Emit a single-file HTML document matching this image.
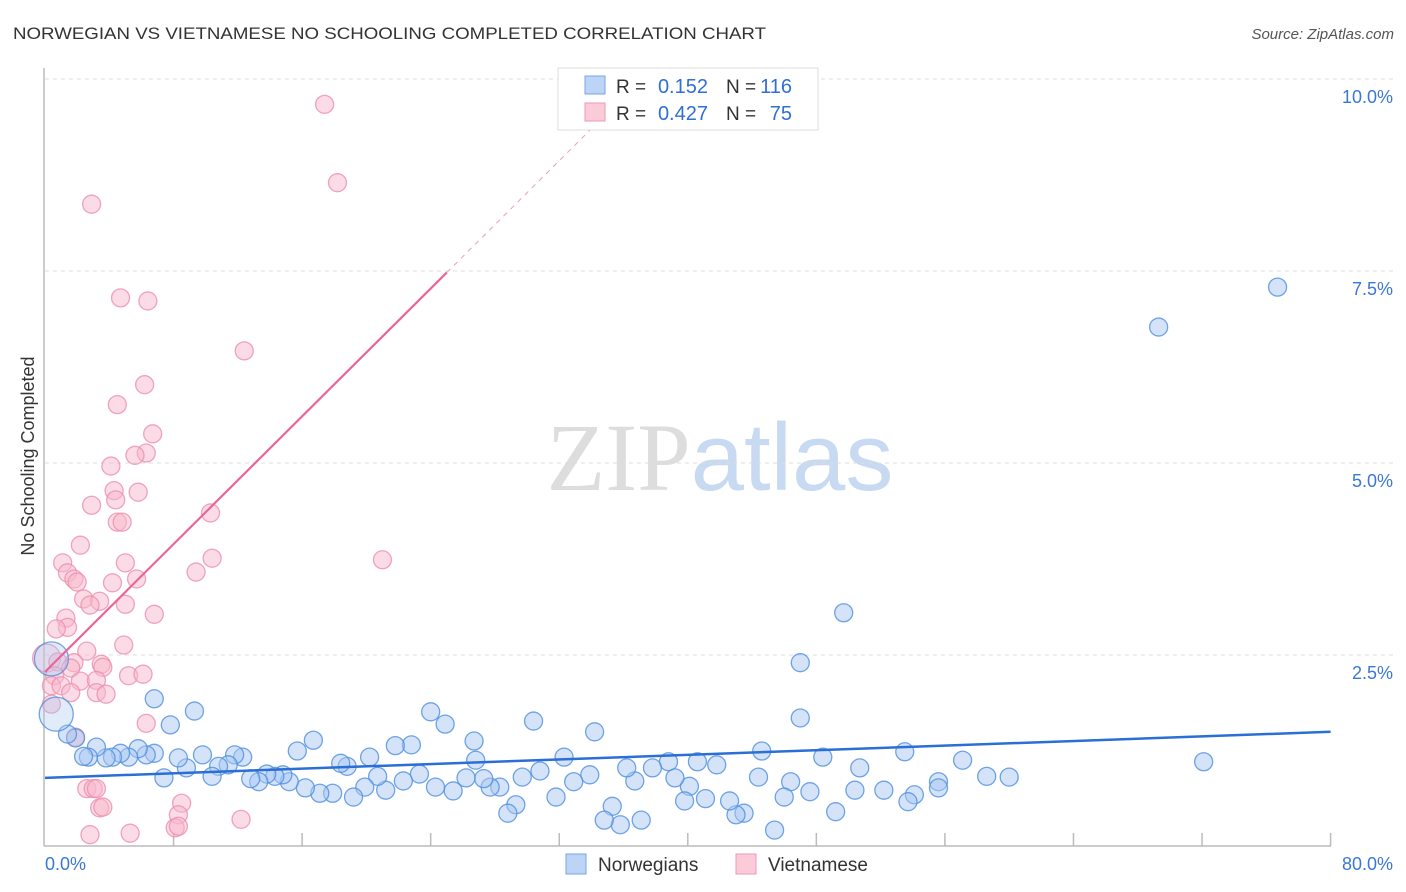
<!DOCTYPE html>
<html><head><meta charset="utf-8"><style>
body{margin:0;background:#fff;font-family:"Liberation Sans",sans-serif}
</style></head><body>
<svg id="c" width="1406" height="892" xmlns="http://www.w3.org/2000/svg" style="display:block">
<text x="13" y="39" font-size="17" fill="#333" textLength="753" lengthAdjust="spacingAndGlyphs">NORWEGIAN VS VIETNAMESE NO SCHOOLING COMPLETED CORRELATION CHART</text>
<text x="1394" y="39" font-size="15" fill="#555" text-anchor="end" font-style="italic">Source: ZipAtlas.com</text>
<text transform="translate(34,456) rotate(-90)" font-size="18" fill="#333" text-anchor="middle">No Schooling Completed</text>
<text x="720" y="490" font-size="96" text-anchor="middle"><tspan fill="#ddd" font-family="Liberation Serif">ZIP</tspan><tspan fill="#c8d9f2">atlas</tspan></text>
<g id="grid"></g><g id="pts"></g><g id="trend"></g>
<g>
<rect x="558" y="68" width="260" height="62" fill="#fff" stroke="#ddd"/>
<rect x="585" y="76" width="20" height="18" fill="#bcd4f5" stroke="#7aa6e6"/>
<rect x="585" y="103" width="20" height="18" fill="#fccbd9" stroke="#ee9ab5"/>
<text x="616" y="93" font-size="19" fill="#333">R =</text>
<text x="708" y="93" font-size="20" fill="#2f6fd6" text-anchor="end">0.152</text>
<text x="726" y="93" font-size="19" fill="#333">N =</text>
<text x="792" y="93" font-size="20" fill="#2f6fd6" text-anchor="end">116</text>
<text x="616" y="120" font-size="19" fill="#333">R =</text>
<text x="708" y="120" font-size="20" fill="#2f6fd6" text-anchor="end">0.427</text>
<text x="726" y="120" font-size="19" fill="#333">N =</text>
<text x="792" y="120" font-size="20" fill="#2f6fd6" text-anchor="end">75</text>
</g>
<g>
<rect x="566" y="854" width="20" height="20" fill="#bcd4f5" stroke="#7aa6e6"/>
<text x="598" y="871" font-size="19" fill="#333">Norwegians</text>
<rect x="736" y="854" width="20" height="20" fill="#fccbd9" stroke="#ee9ab5"/>
<text x="768" y="871" font-size="19" fill="#333">Vietnamese</text>
</g>
</svg>
<script>
const xTicks=[0,8,16,24,32,40,48,56,64,72,80];
const yTicks=[2.5,5.0,7.5,10.0];
const blueX=[76.7,69.3,49.7,47.0,47.0,72.1,60.0,58.6,57.1,55.6,55.6,54.1,53.7,53.5,52.2,50.7,50.4,49.2,48.4,47.6,46.4,46.0,45.4,44.6,44.4,43.5,43.0,42.6,41.8,41.1,40.6,40.1,39.8,38.8,39.2,37.8,36.7,36.2,37.1,35.8,35.3,34.8,34.2,33.9,32.9,31.8,32.3,30.8,30.4,29.7,29.3,28.8,28.3,27.7,27.3,26.8,26.7,26.2,25.4,24.9,24.3,24.0,23.3,22.8,22.3,21.8,21.2,20.7,20.2,19.9,19.2,18.8,18.4,17.9,17.1,16.7,15.7,16.2,15.2,14.8,14.3,13.8,13.3,12.8,12.3,11.8,11.4,10.8,10.4,9.8,9.3,8.8,8.3,7.8,7.4,6.8,6.3,5.8,5.2,4.7,4.2,3.8,3.2,2.7,2.4,1.9,1.4,6.8];
const blueY=[7.29,6.77,3.05,2.40,1.68,1.11,0.91,0.92,1.13,0.85,0.77,0.68,0.59,1.24,0.74,1.03,0.74,0.46,1.17,0.72,0.85,0.65,0.22,1.25,0.91,0.44,0.42,0.60,1.07,0.63,1.11,0.79,0.60,1.11,0.90,1.03,0.86,1.03,0.35,0.29,0.53,0.35,1.50,0.94,0.85,0.65,1.17,0.99,1.64,0.91,0.55,0.44,0.78,0.78,0.89,1.13,1.38,0.90,0.73,1.60,0.78,1.76,0.95,1.33,0.86,1.32,0.74,0.92,1.17,0.78,0.65,1.05,1.09,0.70,0.70,1.39,1.25,0.77,0.85,0.94,0.92,0.95,0.85,0.89,1.17,1.20,1.07,1.05,0.92,1.20,1.77,1.03,1.16,1.59,0.90,1.22,1.20,1.28,1.17,1.22,1.17,1.16,1.30,1.17,1.18,1.42,1.47,1.93];
const blueBigX=[0.7,0.4];
const blueBigY=[1.73,2.45];
const pinkX=[17.4,18.2,2.9,4.7,6.4,12.4,4.5,6.2,6.7,6.3,5.6,4.1,5.8,4.3,4.4,2.9,10.3,4.5,4.8,2.2,1.1,10.4,21.0,9.4,1.4,1.8,2.0,5.0,5.7,4.2,2.4,3.4,2.8,5.0,6.8,1.3,1.4,0.7,4.9,2.6,0.8,1.8,3.5,1.6,3.6,0.6,5.2,6.1,2.2,3.2,0.4,1.0,1.6,3.2,3.8,6.3,0.4,1.9,2.6,3.0,3.2,3.4,3.6,8.5,8.3,8.1,2.8,5.3,12.2,8.3];
const pinkY=[9.67,8.65,8.37,7.15,7.11,6.46,5.76,6.02,5.38,5.13,5.10,4.96,4.62,4.64,4.52,4.45,4.35,4.23,4.23,3.93,3.70,3.76,3.74,3.58,3.57,3.49,3.45,3.70,3.49,3.44,3.23,3.20,3.15,3.16,3.03,2.98,2.86,2.84,2.63,2.55,2.41,2.40,2.38,2.33,2.34,2.23,2.23,2.25,2.16,2.17,2.10,2.10,2.01,2.01,1.99,1.61,1.86,1.43,0.76,0.76,0.76,0.51,0.52,0.57,0.42,0.25,0.16,0.18,0.36,0.27];
const pinkBigX=[0.1];
const pinkBigY=[2.46];
const blueTrend=[0.90,1.50];
const pinkTrend=[2.28,0.208];
const X=v=>45+v*16.07, Y=v=>847-v*76.8;
const NS='http://www.w3.org/2000/svg';
function mk(t,a,p){const e=document.createElementNS(NS,t);for(const k in a)e.setAttribute(k,a[k]);p.appendChild(e);return e;}
const g=document.getElementById('grid');
mk('line',{x1:44,y1:68,x2:44,y2:846,stroke:'#bbb','stroke-width':1.5},g);
mk('line',{x1:44,y1:846,x2:1331,y2:846,stroke:'#bbb','stroke-width':1.5},g);
yTicks.forEach(t=>{const l=mk('line',{x1:45,x2:1395,y1:Y(t),y2:Y(t),stroke:'#ddd','stroke-dasharray':'4,4'},g);

const tx=mk('text',{x:1393,y:Y(t)+24,'font-size':18,fill:'#3a78d4','text-anchor':'end'},g);tx.textContent=t.toFixed(1)+'%';
});
xTicks.forEach(t=>{if(t>0){const l=mk('line',{x1:X(t),x2:X(t),y1:833,y2:846,stroke:'#bbb','stroke-width':1.5},g);
}});
[[0,'0.0%','start',45],[80,'80.0%','end',1393]].forEach(([v,s,a,x])=>{const tx=mk('text',{x:x,y:870,'font-size':18,fill:'#3a78d4','text-anchor':a},g);tx.textContent=s;
});
const p=document.getElementById('pts');
function dots(xs,ys,r,fill,stroke,name,op){xs.forEach((x,i)=>{const c=mk('circle',{cx:X(x),cy:Y(ys[i]),r:r,fill:fill,'fill-opacity':op,stroke:stroke,'stroke-opacity':0.8,'stroke-width':1.3},p);
});}
dots(pinkBigX,pinkBigY,14,'#f8b8cc','#ec8fae','vietnamese-point',0.4);
dots(pinkX,pinkY,9,'#f8b8cc','#ec8fae','vietnamese-point',0.5);
dots(blueX,blueY,9,'#a9c8f2','#4d8ee0','norwegian-point',0.5);
dots(blueBigX,blueBigY,17,'#a9c8f2','#4d8ee0','norwegian-point',0.35);
const tr=document.getElementById('trend');
const bl=mk('line',{x1:X(0),y1:Y(blueTrend[0]),x2:X(80),y2:Y(blueTrend[1]),stroke:'#2a6fd6','stroke-width':2.5},tr);

const pl=mk('line',{x1:X(0),y1:Y(pinkTrend[0]),x2:X(25),y2:Y(pinkTrend[0]+pinkTrend[1]*25),stroke:'#e9659a','stroke-width':2.2},tr);

const pd=mk('line',{x1:X(25),y1:Y(pinkTrend[0]+pinkTrend[1]*25),x2:X(34.5),y2:Y(pinkTrend[0]+pinkTrend[1]*34.5),stroke:'#e9a0bb','stroke-width':1,'stroke-dasharray':'5,5'},tr);

</script>
</body></html>
